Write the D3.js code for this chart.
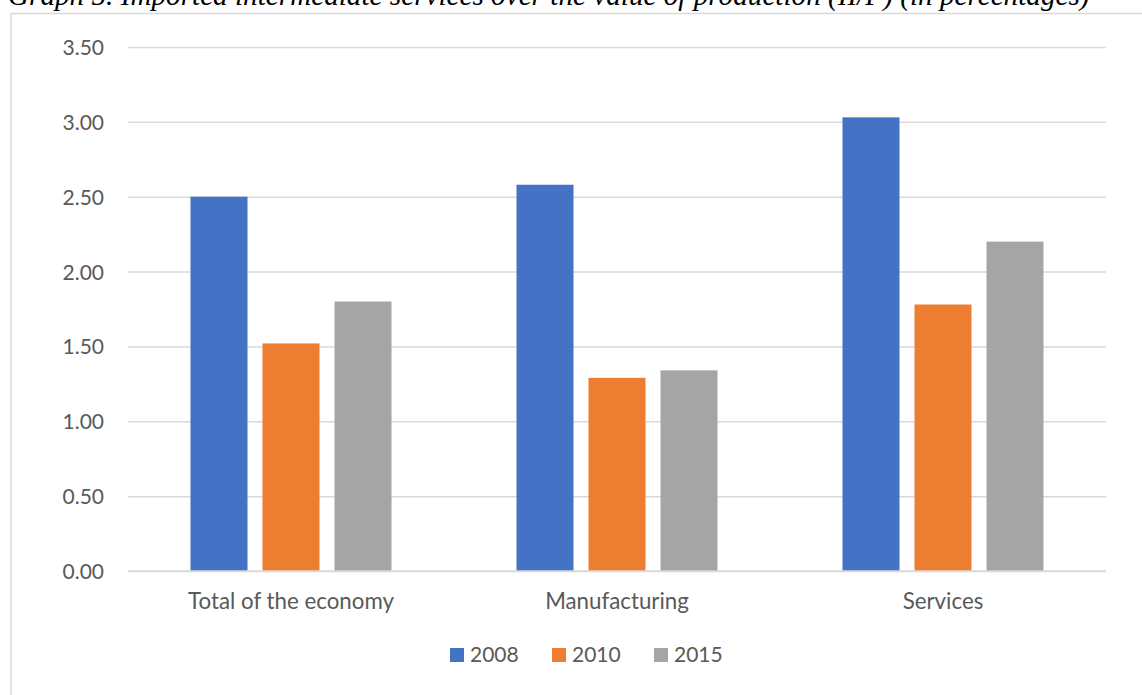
<!DOCTYPE html>
<html>
<head>
<meta charset="utf-8">
<script src="https://cdn.jsdelivr.net/npm/d3@7"></script>
<style>
  html, body { margin: 0; padding: 0; background: #ffffff; }
  svg { display: block; }
</style>
</head>
<body>
<svg id="chart" width="1142" height="695"></svg>
<script>
// Imported intermediate services over the value of production (II/P), in percent
const categories = ["Total of the economy", "Manufacturing", "Services"];
const years = ["2008", "2010", "2015"];
const values2008 = [2.50, 2.58, 3.03];
const values2010 = [1.52, 1.29, 1.78];
const values2015 = [1.80, 1.34, 2.20];
const yTicks = [0, 0.5, 1.0, 1.5, 2.0, 2.5, 3.0, 3.5];
const colors = ["#4472c4", "#ed7d31", "#a5a5a5"];
const titleText = "Graph 5.  Imported intermediate services over the value of production (II/P) (in percentages)";

const seriesValues = [values2008, values2010, values2015];
const rows = categories.map((c, i) => ({
  category: c,
  bars: years.map((y, j) => ({ year: y, value: seriesValues[j][i], color: colors[j] }))
}));

const svg = d3.select("#chart");
const font = "Lato, 'Open Sans', sans-serif";
const textColor = "#595959";

// Title, partly clipped by the top edge
const title = svg.append("text")
  .attr("x", 8).attr("y", 5)
  .attr("font-family", "'Liberation Serif', 'Times New Roman', serif")
  .attr("font-style", "italic")
  .attr("font-size", 26)
  .attr("fill", "#000")
  .text(titleText);
const tw = title.node().getComputedTextLength();
title.attr("font-size", 26 * 1082 / tw);

// Chart frame
svg.append("rect")
  .attr("x", 11).attr("y", 13.5)
  .attr("width", 1160).attr("height", 720)
  .attr("fill", "none")
  .attr("stroke", "#d9d9d9")
  .attr("stroke-width", 1.5);

const plot = { left: 128, right: 1106, top: 47, bottom: 571 };

const y = d3.scaleLinear().domain([0, 3.5]).range([plot.bottom, plot.top]);
const x0 = d3.scaleBand().domain(categories).range([plot.left, plot.right]).padding(0);
const x1 = d3.scaleBand().domain(years).range([0, x0.bandwidth()])
  .paddingInner(0.2083).paddingOuter(0.868);

// Gridlines and value axis
const yAxis = d3.axisLeft(y).tickValues(yTicks)
  .tickSize(-(plot.right - plot.left)).tickPadding(24)
  .tickFormat(d3.format(".2f"));
const gy = svg.append("g").attr("transform", `translate(${plot.left},0)`).call(yAxis);
gy.select(".domain").remove();
gy.selectAll(".tick line").attr("stroke", "#d9d9d9").attr("stroke-width", 1.5);
gy.selectAll(".tick text")
  .attr("font-family", font).attr("font-size", 21).attr("fill", textColor)
  .attr("dy", "0.36em");

// Bars
const groups = svg.append("g").selectAll("g")
  .data(rows).join("g")
  .attr("transform", d => `translate(${x0(d.category)},0)`);
groups.selectAll("rect")
  .data(d => d.bars).join("rect")
  .attr("x", d => x1(d.year))
  .attr("width", x1.bandwidth())
  .attr("y", d => y(d.value))
  .attr("height", d => y(0) - y(d.value))
  .attr("fill", d => d.color);

// Baseline
svg.append("line")
  .attr("x1", plot.left).attr("x2", plot.right)
  .attr("y1", y(0)).attr("y2", y(0))
  .attr("stroke", "#d9d9d9").attr("stroke-width", 1.5);

// Category axis
const xAxis = d3.axisBottom(x0).tickSize(0).tickPadding(0);
const gx = svg.append("g").attr("transform", `translate(0,${plot.bottom})`).call(xAxis);
gx.select(".domain").remove();
gx.selectAll(".tick text")
  .attr("font-family", font).attr("font-size", 22.3).attr("fill", textColor)
  .attr("dy", null).attr("y", 38);

// Legend
const legendX = [450, 552, 654];
const legend = svg.append("g").selectAll("g")
  .data(years).join("g")
  .attr("transform", (d, i) => `translate(${legendX[i]},648)`);
legend.append("rect").attr("width", 14).attr("height", 14)
  .attr("fill", (d, i) => colors[i]);
legend.append("text")
  .attr("x", 20).attr("y", 14)
  .attr("font-family", font).attr("font-size", 21).attr("fill", textColor)
  .text(d => d);
</script>
</body>
</html>
